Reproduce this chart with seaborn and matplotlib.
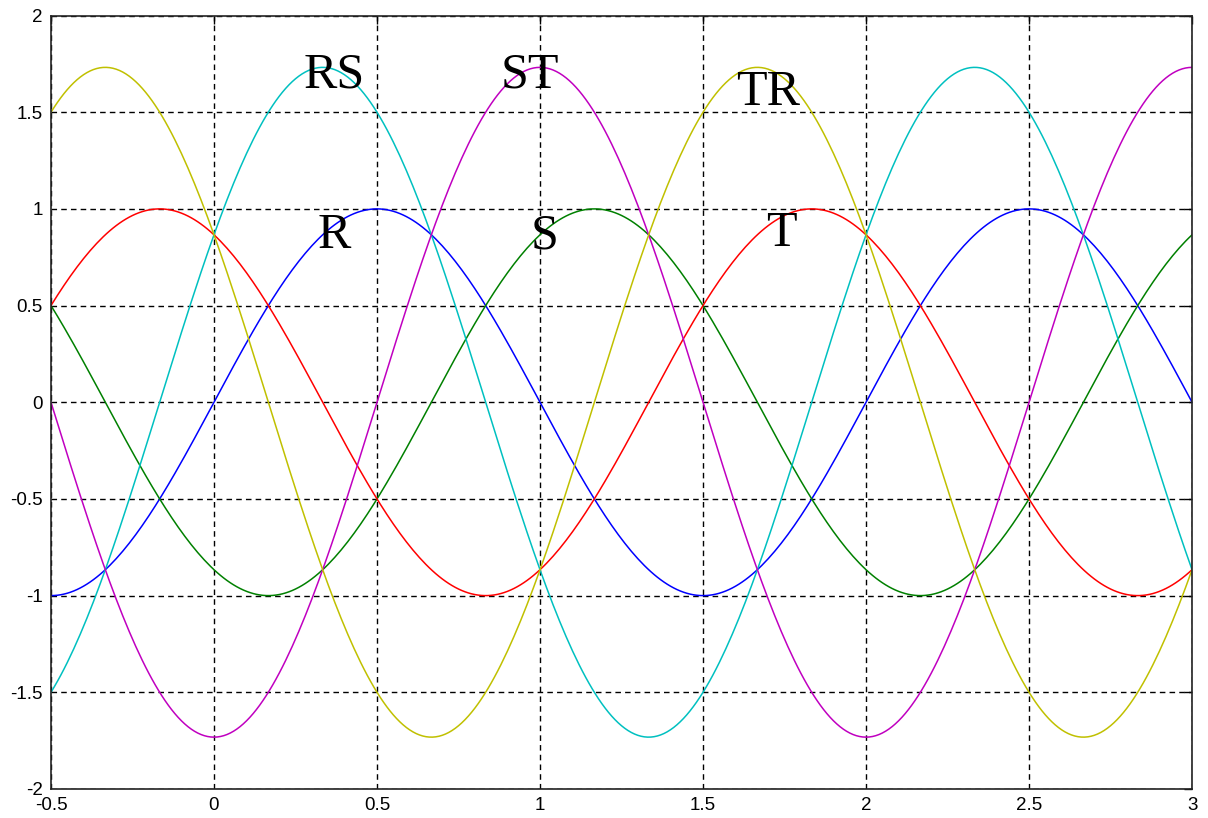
import numpy as np
import pandas as pd
import matplotlib
matplotlib.use('Agg')
import matplotlib.pyplot as plt
import seaborn as sns

##### data #####
# three phase voltages and the line-to-line differences
names = ['R', 'S', 'T', 'RS', 'ST', 'TR']
amplitudes = [1.0, 1.0, 1.0, 1.732, 1.732, 1.732]
peak_at = [0.5, 1.1667, 1.8333, 0.3333, 1.0, 1.6667]   # x of a crest, period 2
colors = ['#0000ff', '#008000', '#ff0000', '#00c0c0', '#c000c0', '#c0c000']

x_ticks = [-0.5, 0, 0.5, 1, 1.5, 2, 2.5, 3]
x_labels = ['-0.5', '0', '0.5', '1', '1.5', '2', '2.5', '3']
y_ticks = [-2, -1.5, -1, -0.5, 0, 0.5, 1, 1.5, 2]
y_labels = ['-2', '-1.5', '-1', '-0.5', '0', '0.5', '1', '1.5', '2']

label_text = ['RS', 'ST', 'TR', 'R', 'S', 'T']
label_x = [0.37, 0.97, 1.70, 0.37, 1.015, 1.74]
label_y = [1.69, 1.69, 1.60, 0.86, 0.86, 0.87]

##### build frame #####
x = np.linspace(-0.5, 3, 351)
rows = []
for n, a, p in zip(names, amplitudes, peak_at):
    rows.append(pd.DataFrame({'x': x, 'y': a * np.cos(np.pi * (x - p)), 'curve': n}))
df = pd.concat(rows, ignore_index=True)

##### plot #####
sns.set_style('white')
plt.rcParams['font.family'] = ['Liberation Sans', 'DejaVu Sans']

fig = plt.figure(figsize=(12.08, 8.18), dpi=100)
ax = fig.add_axes([0.0422, 0.0355, 0.9446, 0.9455])

sns.lineplot(data=df, x='x', y='y', hue='curve', hue_order=names,
             palette=dict(zip(names, colors)), linewidth=1.1, legend=False,
             ax=ax, estimator=None, sort=False)

ax.set_xlim(-0.5, 3)
ax.set_ylim(-2, 2)
ax.set_xticks(x_ticks)
ax.set_xticklabels(x_labels)
ax.set_yticks(y_ticks)
ax.set_yticklabels(y_labels)
ax.set_xlabel('')
ax.set_ylabel('')
ax.grid(True, color='black', linestyle=(0, (4, 3)), linewidth=1.0)
ax.tick_params(direction='in', length=6, width=1, top=True, right=True,
               labelsize=13.5, colors='black', pad=6)
for s in ax.spines.values():
    s.set_color('#222222')
    s.set_linewidth(1.2)

for t, lx, ly in zip(label_text, label_x, label_y):
    ax.text(lx, ly, t, fontsize=36, family='Liberation Serif',
            ha='center', va='center', color='black')

fig.savefig('out.png', dpi=100)
